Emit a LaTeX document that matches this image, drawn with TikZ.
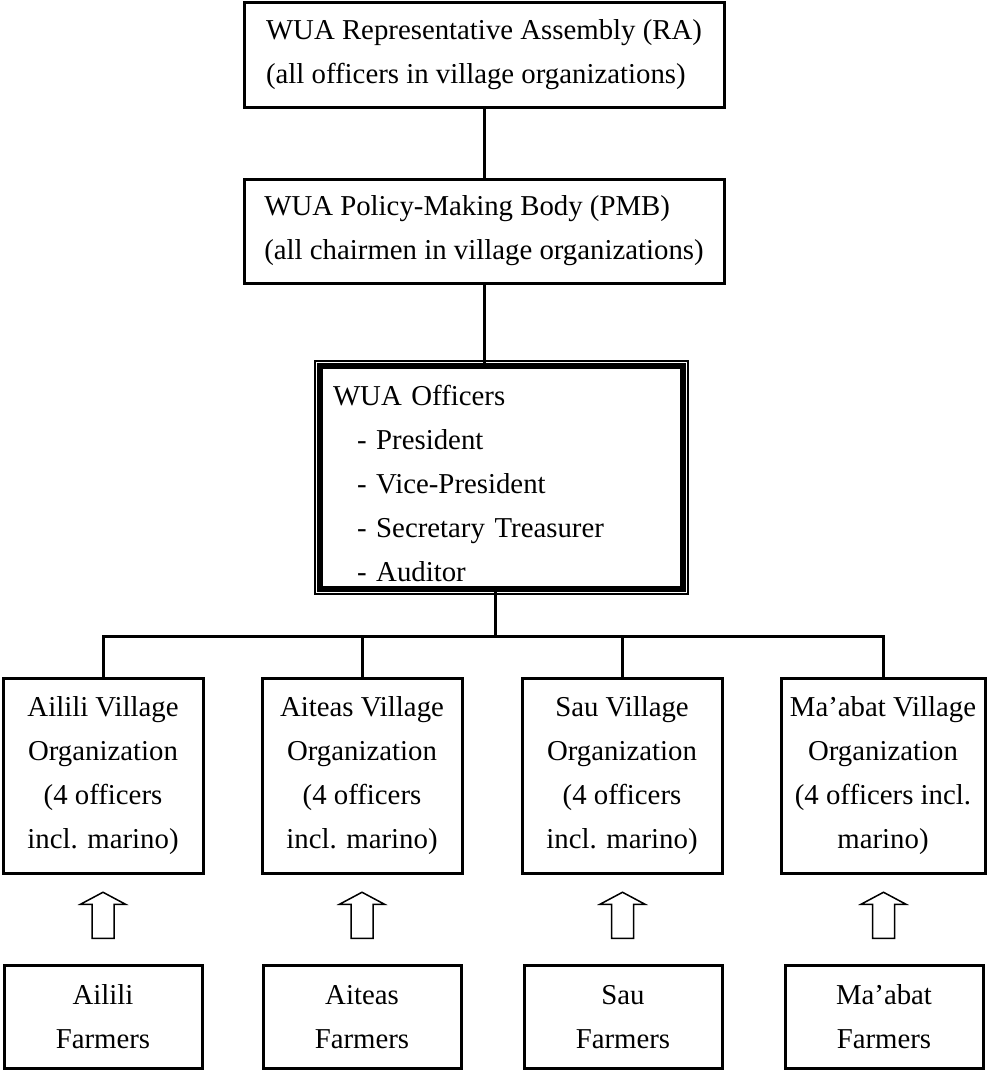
\documentclass[tikz,border=0pt]{standalone}
\usepackage{fontspec}
\setmainfont{Liberation Serif}
\begin{document}
\begin{tikzpicture}[x=0.5pt,y=-0.5pt,
  every node/.style={font=\fontsize{14.4pt}{22pt}\selectfont, outer sep=0pt},
  box/.style={draw, line width=1.5pt, inner sep=0pt},
  topbox/.style={box, minimum width=240pt, minimum height=52.5pt, align=left},
  vbox/.style={box, minimum width=100pt, minimum height=97.5pt, align=center},
  fbox/.style={box, minimum width=99pt, minimum height=51.5pt, align=center},
  offbox/.style={draw, line width=3pt, inner sep=0pt, minimum width=181.25pt, minimum height=111.25pt, text width=168.45pt, align=left},
  conn/.style={line width=1.5pt},
  uparrow/.pic={\draw[line width=0.75pt, line join=miter] (-11,19) -- (-11,-15) -- (-22.5,-15) -- (0,-27) -- (22.5,-15) -- (11,-15) -- (11,19) -- cycle;}
]
\useasboundingbox (0,0) rectangle (1000,1071);

\node[topbox] (ra) at (484,54.5) {WUA Representative Assembly (RA)\\(all officers in village organizations)};
\node[topbox, minimum height=52pt] (pmb) at (484,231) {WUA Policy-Making Body (PMB)\\(all chairmen in village organizations)};

\node[offbox] (off) at (501.5,477.5) {\rule{0pt}{16pt}WUA Officers\\
\hspace*{12pt}- President\\
\hspace*{12pt}- Vice-President\\
\hspace*{12pt}- Secretary Treasurer\\
\hspace*{12pt}- Auditor};
\draw[line width=0.75pt] ([shift={(-2.625pt,-2.625pt)}]off.south west) rectangle ([shift={(2.625pt,2.625pt)}]off.north east);

\node[vbox] (v1) at (103,775.5) {Ailili Village\\Organization\\(4 officers\\incl. marino)};
\node[vbox] (v2) at (362,775.5) {Aiteas Village\\Organization\\(4 officers\\incl. marino)};
\node[vbox] (v3) at (622,775.5) {Sau Village\\Organization\\(4 officers\\incl. marino)};
\node[vbox, minimum width=102pt] (v4) at (883,775.5) {Ma’abat Village\\Organization\\(4 officers incl.\\marino)};

\node[fbox] (f1) at (103,1017) {Ailili\\Farmers};
\node[fbox] (f2) at (362,1017) {Aiteas\\Farmers};
\node[fbox] (f3) at (623,1017) {Sau\\Farmers};
\node[fbox] (f4) at (884,1017) {Ma’abat\\Farmers};

\draw[conn] (ra.south) -- (pmb.north);
\draw[conn] (pmb.south) -- (pmb.south |- off.north);
\coordinate (bus) at (0,636);
\coordinate (offb) at ([xshift=-3pt]off.south);
\draw[conn] (offb) -- (offb |- bus);
\draw[conn] (v1.north) -- (v1.north |- bus) -- (v4.north |- bus) -- (v4.north);
\draw[conn] (v2.north) -- (v2.north |- bus);
\draw[conn] (v3.north) -- (v3.north |- bus);

\foreach \i in {1,2,3,4} {
  \path (v\i.south) -- (f\i.north) coordinate[midway] (a\i);
  \pic at (a\i) {uparrow};
}
\end{tikzpicture}
\end{document}
